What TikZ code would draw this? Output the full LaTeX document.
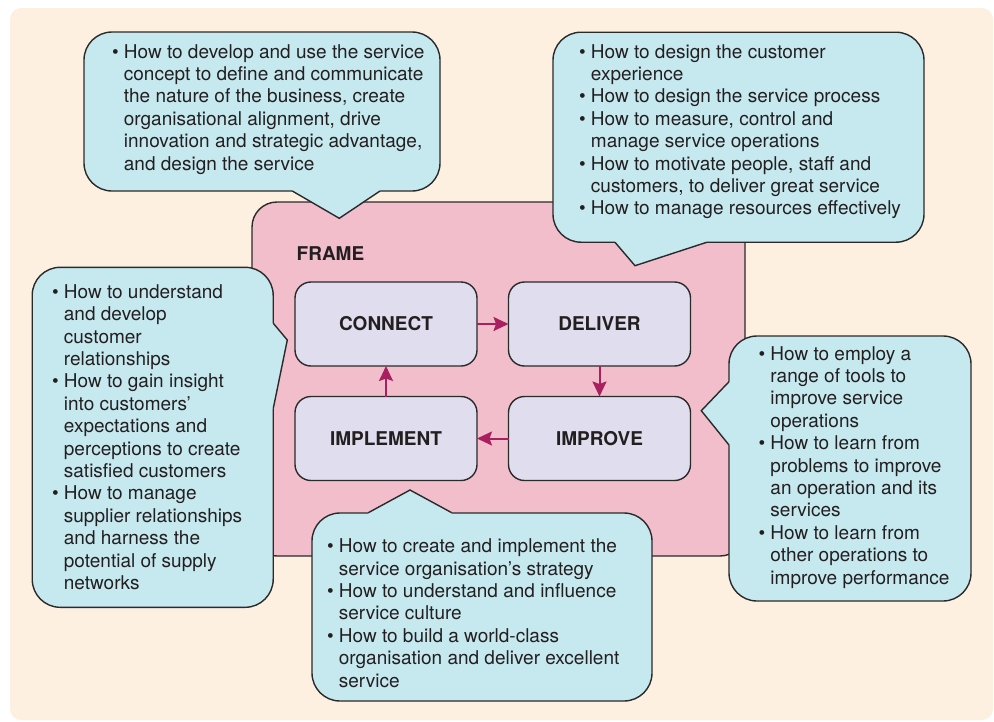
\documentclass[tikz,border=0pt]{standalone}
\usepackage{fontspec}
\setmainfont{TeX Gyre Heros}
\usetikzlibrary{arrows.meta}
\definecolor{bgc}{HTML}{FDF0E1}
\definecolor{framec}{HTML}{F2BECB}
\definecolor{callc}{HTML}{C6E8EF}
\definecolor{boxc}{HTML}{E0DEEE}
\definecolor{arrc}{HTML}{A8205F}
\definecolor{linec}{HTML}{2A2A2A}
\definecolor{textc}{HTML}{231F20}
\newcommand\bitm[1]{\hbox{\textbullet\ #1}}
\newcommand\bcnt[1]{\hbox{\hphantom{\textbullet\ }#1}}
\newcommand\blk[1]{\vtop{\baselineskip=22.4pt\lineskiplimit=-20pt\lineskip=0pt #1}}
\tikzset{
  calloutbody/.style={draw=linec, line width=1.4pt, fill=callc, rounded corners=28pt, inner sep=0pt, outer sep=0pt},
  ptrfill/.style={fill=callc, draw=none},
  ptrline/.style={draw=linec, line width=1.4pt, line join=miter},
  stagebox/.style={draw=linec, line width=1.4pt, fill=boxc, rounded corners=16pt, minimum width=182pt, minimum height=84pt, inner sep=0pt, outer sep=0pt, font=\fontsize{19}{22}\selectfont\bfseries, text=textc},
  flowarrow/.style={draw=arrc, line width=2pt, -{Stealth[length=15pt,width=14pt,inset=2.5pt]}},
  bodytext/.style={anchor=base west, inner sep=0pt, outer sep=0pt, text=textc, font=\fontsize{19}{22.4}\selectfont},
}
\begin{document}
\begin{tikzpicture}[x=1pt,y=-1pt]
\useasboundingbox (0,0) rectangle (994,721);
% background
\fill[bgc, rounded corners=11pt] (10,8) rectangle (993,720);
% frame
\node[draw=linec, line width=1.4pt, fill=framec, rounded corners=25pt, minimum width=493pt, minimum height=354pt, inner sep=0pt, outer sep=0pt] (frame) at (498.5,379) {};
\node[anchor=base west, inner sep=0pt, font=\fontsize{19}{22}\selectfont\bfseries, text=textc] (framelbl) at (296.5,260) {FRAME};
% stage boxes
\node[stagebox] (connect) at (386,324) {CONNECT};
\node[stagebox] (deliver) at (599.5,324) {DELIVER};
\node[stagebox] (implement) at (386,438.5) {IMPLEMENT};
\node[stagebox] (improve) at (599.5,438.5) {IMPROVE};
\draw[flowarrow] (connect.east) -- (deliver.west);
\draw[flowarrow] (deliver.south) -- (improve.north);
\draw[flowarrow] (improve.west) -- (implement.east);
\draw[flowarrow] (implement.north) -- (connect.south);

% callout A (top)
\node[calloutbody, minimum width=356pt, minimum height=159pt] (cA) at (262,111.5) {};
\fill[ptrfill] (292.3,186) -- (292.3,191) -- (339.3,218.3) -- (380,191) -- (380,186) -- cycle;
\draw[ptrline] (292.3,191) -- (339.3,218.3) -- (380,191);
\node[bodytext] (tA) at (112,58) {\blk{%
\bitm{How to develop and use the service}
\bcnt{concept to define and communicate}
\bcnt{the nature of the business, create}
\bcnt{organisational alignment, drive}
\bcnt{innovation and strategic advantage,}
\bcnt{and design the service}}};

% callout B (top right)
\node[calloutbody, minimum width=371pt, minimum height=210pt] (cB) at (738.5,137.2) {};
\fill[ptrfill] (615,237) -- (615,242.3) -- (635,265.7) -- (706.7,242.3) -- (706.7,237) -- cycle;
\draw[ptrline] (615,242.3) -- (635,265.7) -- (706.7,242.3);
\node[bodytext] (tB) at (579,58) {\blk{%
\bitm{How to design the customer}
\bcnt{experience}
\bitm{How to design the service process}
\bitm{How to measure, control and}
\bcnt{manage service operations}
\bitm{How to motivate people, staff and}
\bcnt{customers, to deliver great service}
\bitm{How to manage resources effectively}}};

% callout C (left)
\node[calloutbody, minimum width=241pt, minimum height=340pt] (cC) at (152.7,437.3) {};
\fill[ptrfill] (268,323.3) -- (273.3,323.3) -- (287.3,340) -- (273.3,408.3) -- (268,408.3) -- cycle;
\draw[ptrline] (273.3,323.3) -- (287.3,340) -- (273.3,408.3);
\node[bodytext] (tC) at (52,298.3) {\blk{%
\bitm{How to understand}
\bcnt{and develop}
\bcnt{customer}
\bcnt{relationships}
\bitm{How to gain insight}
\bcnt{into customers’}
\bcnt{expectations and}
\bcnt{perceptions to create}
\bcnt{satisfied customers}
\bitm{How to manage}
\bcnt{supplier relationships}
\bcnt{and harness the}
\bcnt{potential of supply}
\bcnt{networks}}};

% callout D (right)
\node[calloutbody, minimum width=242pt, minimum height=265pt] (cD) at (850,468.5) {};
\fill[ptrfill] (734,381.7) -- (729,381.7) -- (701.3,410.7) -- (729,445) -- (734,445) -- cycle;
\draw[ptrline] (729,381.7) -- (701.3,410.7) -- (729,445);
\node[bodytext] (tD) at (758.5,360) {\blk{%
\bitm{How to employ a}
\bcnt{range of tools to}
\bcnt{improve service}
\bcnt{operations}
\bitm{How to learn from}
\bcnt{problems to improve}
\bcnt{an operation and its}
\bcnt{services}
\bitm{How to learn from}
\bcnt{other operations to}
\bcnt{improve performance}}};

% callout E (bottom)
\node[calloutbody, minimum width=340pt, minimum height=188pt] (cE) at (482,607) {};
\fill[ptrfill] (368.3,518) -- (368.3,512.7) -- (410,490) -- (451.7,512.7) -- (451.7,518) -- cycle;
\draw[ptrline] (368.3,512.7) -- (410,490) -- (451.7,512.7);
\node[bodytext] (tE) at (327,552.7) {\blk{%
\bitm{How to create and implement the}
\bcnt{service organisation’s strategy}
\bitm{How to understand and influence}
\bcnt{service culture}
\bitm{How to build a world-class}
\bcnt{organisation and deliver excellent}
\bcnt{service}}};
\end{tikzpicture}
\end{document}
